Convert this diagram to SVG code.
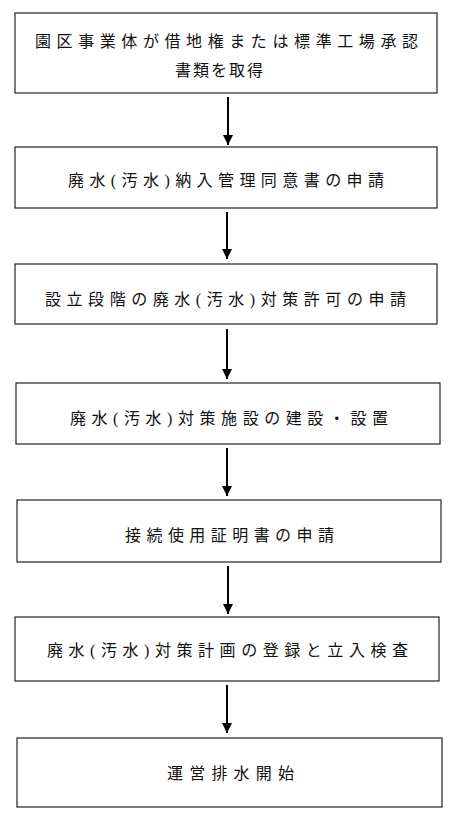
<svg xmlns="http://www.w3.org/2000/svg" width="462" height="821" viewBox="0 0 462 821">
<style>
.box{fill:#fff;stroke:#222;stroke-width:1.2}
.t{font-family:"Liberation Serif","Noto Sans CJK JP",serif;font-size:16px;fill:#111;dominant-baseline:central}
.c{stroke:#000;stroke-width:2;fill:none}
</style>
<defs>
<marker id="ah" viewBox="0 0 10 10" refX="10" refY="5" markerWidth="5" markerHeight="5" markerUnits="strokeWidth" orient="auto">
<path d="M0,0 L10,5 L0,10 z" fill="#000"/>
</marker>
</defs>
<rect width="462" height="821" fill="#fff"/>
<g id="n1"><rect class="box" x="15" y="13" width="422" height="80"/>
<text class="t" x="35" y="41" textLength="383" lengthAdjust="spacing">園区事業体が借地権または標準工場承認</text>
<text class="t" x="175" y="70" textLength="88" lengthAdjust="spacing">書類を取得</text></g>
<g id="n2"><rect class="box" x="15" y="147" width="422" height="61"/>
<text class="t" x="68" y="180" textLength="316" lengthAdjust="spacing">廃水(汚水)納入管理同意書の申請</text></g>
<g id="n3"><rect class="box" x="15" y="264" width="422" height="60"/>
<text class="t" x="45" y="299" textLength="361" lengthAdjust="spacing">設立段階の廃水(汚水)対策許可の申請</text></g>
<g id="n4"><rect class="box" x="16" y="383" width="424" height="61"/>
<text class="t" x="70" y="418" textLength="318" lengthAdjust="spacing">廃水(汚水)対策施設の建設・設置</text></g>
<g id="n5"><rect class="box" x="17" y="500" width="424" height="62"/>
<text class="t" x="125" y="535" textLength="209" lengthAdjust="spacing">接続使用証明書の申請</text></g>
<g id="n6"><rect class="box" x="15" y="617" width="424" height="64"/>
<text class="t" x="47" y="650" textLength="361" lengthAdjust="spacing">廃水(汚水)対策計画の登録と立入検査</text></g>
<g id="n7"><rect class="box" x="17" y="738" width="425" height="69"/>
<text class="t" x="167" y="773" textLength="127" lengthAdjust="spacing">運営排水開始</text></g>
<g id="connectors">
<line class="c" x1="228" y1="97" x2="228" y2="145" marker-end="url(#ah)"/>
<line class="c" x1="227" y1="212" x2="227" y2="259" marker-end="url(#ah)"/>
<line class="c" x1="227" y1="329" x2="227" y2="379" marker-end="url(#ah)"/>
<line class="c" x1="227" y1="448" x2="227" y2="496" marker-end="url(#ah)"/>
<line class="c" x1="228" y1="566" x2="228" y2="614" marker-end="url(#ah)"/>
<line class="c" x1="227" y1="685" x2="227" y2="733" marker-end="url(#ah)"/>
</g>
</svg>
